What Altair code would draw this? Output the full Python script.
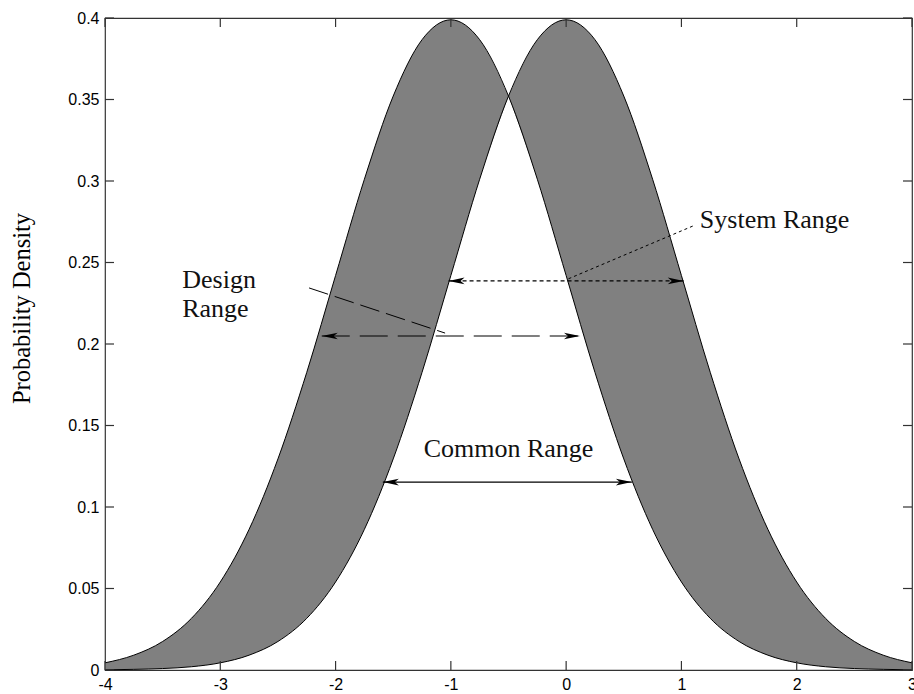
import altair as alt
import pandas as pd

# Probability density of the two distributions, sampled every 0.25
x_grid = [-4.0, -3.75, -3.5, -3.25, -3.0, -2.75, -2.5, -2.25, -2.0, -1.75,
          -1.5, -1.25, -1.0, -0.75, -0.5, -0.25, 0.0, 0.25, 0.5, 0.75,
          1.0, 1.25, 1.5, 1.75, 2.0, 2.25, 2.5, 2.75, 3.0]
design_pdf = [0.0044, 0.0091, 0.0175, 0.0317, 0.0540, 0.0863, 0.1295, 0.1826,
              0.2420, 0.3011, 0.3521, 0.3867, 0.3989, 0.3867, 0.3521, 0.3011,
              0.2420, 0.1826, 0.1295, 0.0863, 0.0540, 0.0317, 0.0175, 0.0091,
              0.0044, 0.0020, 0.0009, 0.0004, 0.0001]
system_pdf = [0.0001, 0.0004, 0.0009, 0.0020, 0.0044, 0.0091, 0.0175, 0.0317,
              0.0540, 0.0863, 0.1295, 0.1826, 0.2420, 0.3011, 0.3521, 0.3867,
              0.3989, 0.3867, 0.3521, 0.3011, 0.2420, 0.1826, 0.1295, 0.0863,
              0.0540, 0.0317, 0.0175, 0.0091, 0.0044]
crossing_x = -0.5

x_ticks = [-4, -3, -2, -1, 0, 1, 2, 3]
y_ticks = [0, 0.05, 0.1, 0.15, 0.2, 0.25, 0.3, 0.35, 0.4]

# Double-headed range arrows: level, left end, right end
range_names = ["Common Range", "Design Range", "System Range"]
range_level = [0.1153, 0.2049, 0.2387]
range_lo = [-1.59, -2.12, -1.02]
range_hi = [0.57, 0.12, 1.02]

# Leader lines from the labels to the arrows
design_leader_x = [-2.23, -1.05]
design_leader_y = [0.2344, 0.2067]
system_leader_x = [1.12, 0.02]
system_leader_y = [0.2730, 0.2400]

# Annotation texts
left_labels = ["Design", "Range", "System Range"]
left_label_x = [-3.33, -3.33, 1.16]
left_label_y = [0.2344, 0.2166, 0.2712]
center_labels = ["Common Range"]
center_label_x = [-0.50]
center_label_y = [0.1307]

W, H = 807, 652
SERIF = "Liberation Serif"
SANS = "Liberation Sans"

x_scale = alt.Scale(domain=[-4, 3], nice=False, zero=False)
y_scale = alt.Scale(domain=[0, 0.4], nice=False, zero=False)

x_axis = alt.Axis(
    values=x_ticks, labelExpr="'' + datum.value", ticks=False, domain=False,
    grid=False, labelFont=SANS, labelFontSize=16, labelColor="black",
    labelPadding=6, labelFlush=False, labelOverlap=False, title="",
)
y_axis = alt.Axis(
    values=y_ticks, labelExpr="'' + datum.value", ticks=False, domain=False,
    grid=False, labelFont=SANS, labelFontSize=16, labelColor="black",
    labelPadding=6, labelFlush=False, labelOverlap=False,
    title="Probability Density", titleFont=SERIF, titleFontSize=24.5,
    titleFontWeight="normal", titleColor="black", titleAngle=270,
    titleAlign="center", titleBaseline="alphabetic", titleX=-76, titleY=290,
)


def xq(field):
    return alt.X(f"{field}:Q", scale=x_scale, axis=x_axis)


def yq(field):
    return alt.Y(f"{field}:Q", scale=y_scale, axis=y_axis)


# Shaded band between the two curves, split where they cross
n_left = x_grid.index(crossing_x) + 1
band = pd.DataFrame({
    "x": x_grid[:n_left] + x_grid[n_left - 1:],
    "lo": system_pdf[:n_left] + design_pdf[n_left - 1:],
    "hi": design_pdf[:n_left] + system_pdf[n_left - 1:],
    "part": ["left"] * n_left + ["right"] * (len(x_grid) - n_left + 1),
})
fill = alt.Chart(band).mark_area(
    interpolate="monotone", color="#808080", opacity=1
).encode(x=xq("x"), y=yq("lo"), y2="hi:Q", detail="part:N")

curves = pd.DataFrame({
    "x": x_grid + x_grid,
    "density": design_pdf + system_pdf,
    "curve": ["design"] * len(x_grid) + ["system"] * len(x_grid),
})
lines = alt.Chart(curves).mark_line(
    interpolate="monotone", color="black", strokeWidth=1
).encode(x=xq("x"), y=yq("density"), detail="curve:N")

# Inward-pointing tick marks on all four sides of the frame
xt = pd.DataFrame({"x": x_ticks})
yt = pd.DataFrame({"density": y_ticks})
tick_style = dict(color="#333333", strokeWidth=1.2)
ticks_bottom = alt.Chart(xt).mark_rule(**tick_style).encode(
    x=xq("x"), y=alt.value(H), y2=alt.value(H - 9))
ticks_top = alt.Chart(xt).mark_rule(**tick_style).encode(
    x=xq("x"), y=alt.value(0), y2=alt.value(9))
ticks_left = alt.Chart(yt).mark_rule(**tick_style).encode(
    y=yq("density"), x=alt.value(0), x2=alt.value(9))
ticks_right = alt.Chart(yt).mark_rule(**tick_style).encode(
    y=yq("density"), x=alt.value(W), x2=alt.value(W - 9))

ranges = pd.DataFrame({
    "name": range_names, "density": range_level,
    "x_lo": range_lo, "x_hi": range_hi,
})
dash_of = {
    "Common Range": [1, 0],
    "Design Range": [28, 10],
    "System Range": [4, 3],
}
HEAD_R = "M1,0L-1,-0.42L-0.5,0L-1,0.42Z"
HEAD_L = "M-1,0L1,-0.42L0.5,0L1,0.42Z"

arrow_layers = []
for name in range_names:
    d = ranges[ranges["name"] == name]
    arrow_layers.append(
        alt.Chart(d).mark_rule(
            color="black", strokeWidth=1.2, strokeDash=dash_of[name]
        ).encode(x=xq("x_lo"), x2="x_hi:Q", y=yq("density"))
    )
heads_left = alt.Chart(ranges).mark_point(
    shape=HEAD_L, filled=True, color="black", opacity=1, size=256, xOffset=8
).encode(x=xq("x_lo"), y=yq("density"))
heads_right = alt.Chart(ranges).mark_point(
    shape=HEAD_R, filled=True, color="black", opacity=1, size=256, xOffset=-8
).encode(x=xq("x_hi"), y=yq("density"))

design_leader = alt.Chart(pd.DataFrame({
    "x": design_leader_x, "density": design_leader_y})).mark_line(
    color="black", strokeWidth=1, strokeDash=[20, 7]
).encode(x=xq("x"), y=yq("density"))
system_leader = alt.Chart(pd.DataFrame({
    "x": system_leader_x, "density": system_leader_y})).mark_line(
    color="black", strokeWidth=1, strokeDash=[3, 3]
).encode(x=xq("x"), y=yq("density"))

text_style = dict(font=SERIF, fontSize=26, color="#111111", baseline="alphabetic")
text_left = alt.Chart(pd.DataFrame({
    "x": left_label_x, "density": left_label_y, "label": left_labels})).mark_text(
    align="left", **text_style
).encode(x=xq("x"), y=yq("density"), text="label:N")
text_center = alt.Chart(pd.DataFrame({
    "x": center_label_x, "density": center_label_y, "label": center_labels})).mark_text(
    align="center", **text_style
).encode(x=xq("x"), y=yq("density"), text="label:N")

chart = alt.layer(
    fill, lines, ticks_bottom, ticks_top, ticks_left, ticks_right,
    *arrow_layers, heads_left, heads_right, design_leader, system_leader,
    text_left, text_center,
).properties(
    width=W, height=H,
    autosize=alt.AutoSizeParams(type="none"),
    padding={"left": 105, "top": 18, "right": 2, "bottom": 24},
    background="white",
).configure_view(
    stroke="#333333", strokeWidth=1.2
)

chart.save("out.html", embed_options={"renderer": "svg", "actions": False})
